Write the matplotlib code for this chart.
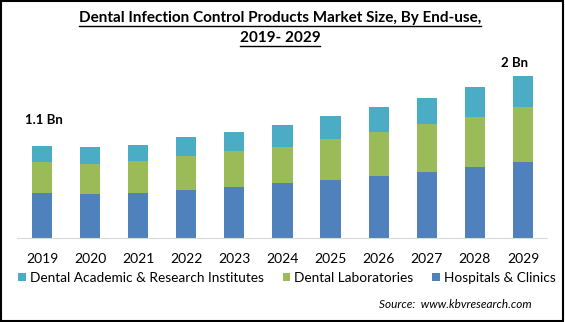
import matplotlib
matplotlib.use('Agg')
import matplotlib.pyplot as plt
from matplotlib.patches import Rectangle
from matplotlib.lines import Line2D
import numpy as np

# Market size by end-use (USD Bn)
years = ['2019', '2020', '2021', '2022', '2023', '2024',
         '2025', '2026', '2027', '2028', '2029']
hospitals = [0.54, 0.53, 0.54, 0.58, 0.61, 0.66, 0.70, 0.74, 0.79, 0.85, 0.91]
laboratories = [0.37, 0.36, 0.38, 0.40, 0.43, 0.44, 0.49, 0.53, 0.58, 0.61, 0.66]
academic = [0.20, 0.20, 0.20, 0.23, 0.24, 0.26, 0.28, 0.30, 0.31, 0.35, 0.38]
end_labels = ['1.1 Bn', '2 Bn']

plt.rcParams['font.family'] = ['Lato', 'DejaVu Sans']

fig = plt.figure(figsize=(5.65, 3.22), dpi=100)
W, H = 565, 322
ax = fig.add_axes([17 / W, 1 - 238 / H, 530 / W, 183 / H])

x = np.arange(len(years))
width = 0.42
b1 = ax.bar(x, hospitals, width, color='#4F81BD', label='Hospitals & Clinics')
b2 = ax.bar(x, laboratories, width, bottom=hospitals, color='#9BBB59',
            label='Dental Laboratories')
bottom2 = np.array(hospitals) + np.array(laboratories)
b3 = ax.bar(x, academic, width, bottom=bottom2, color='#4BACC6',
            label='Dental Academic & Research Institutes')

totals = bottom2 + np.array(academic)
ax.annotate(end_labels[0], (x[0], totals[0]), xytext=(1, 14),
            textcoords='offset points', ha='center', va='bottom',
            fontsize=9.5, fontweight='bold')
ax.annotate(end_labels[1], (x[-1], totals[-1]), xytext=(-6, 5),
            textcoords='offset points', ha='center', va='bottom',
            fontsize=9.5, fontweight='bold')

ax.set_xlim(-0.52, 10.5)
ax.set_ylim(0, 2.2)
ax.set_xticks(x)
ax.set_xticklabels(years, fontsize=10)
ax.tick_params(axis='x', length=0, pad=11)
ax.set_yticks([])
for s in ['top', 'right', 'left']:
    ax.spines[s].set_visible(False)
ax.spines['bottom'].set_color('#D9D9D9')

handles = [b3, b2, b1]
fig.legend(handles, [h.get_label() for h in handles], loc='center',
           bbox_to_anchor=(287 / W, 1 - 278 / H), ncol=3, frameon=False,
           fontsize=9.8, handlelength=0.55, handleheight=0.55,
           handletextpad=0.3, columnspacing=1.4, borderpad=0)

fig.text(532 / W, 1 - 305 / H, 'Source:  www.kbvresearch.com', ha='right',
         va='center', fontsize=8.5, style='italic')

# title, underlined
t1 = fig.text(280 / W, 1 - 18 / H,
              'Dental Infection Control Products Market Size, By End-use,',
              ha='center', va='center', fontsize=11, fontweight='bold')
t2 = fig.text(280 / W, 1 - 38 / H, '2019- 2029', ha='center', va='center',
              fontsize=11, fontweight='bold')
fig.canvas.draw()
r = fig.canvas.get_renderer()
for t in (t1, t2):
    bb = t.get_window_extent(r)
    y = (bb.y0 - 1) / fig.bbox.height
    fig.add_artist(Line2D([bb.x0 / fig.bbox.width, bb.x1 / fig.bbox.width],
                          [y, y], color='black', lw=1.0))

fig.add_artist(Rectangle((0.002, 0.003), 0.994, 0.993, transform=fig.transFigure,
                         fill=False, edgecolor='black', lw=1.5))

fig.savefig('out.png', dpi=100)
